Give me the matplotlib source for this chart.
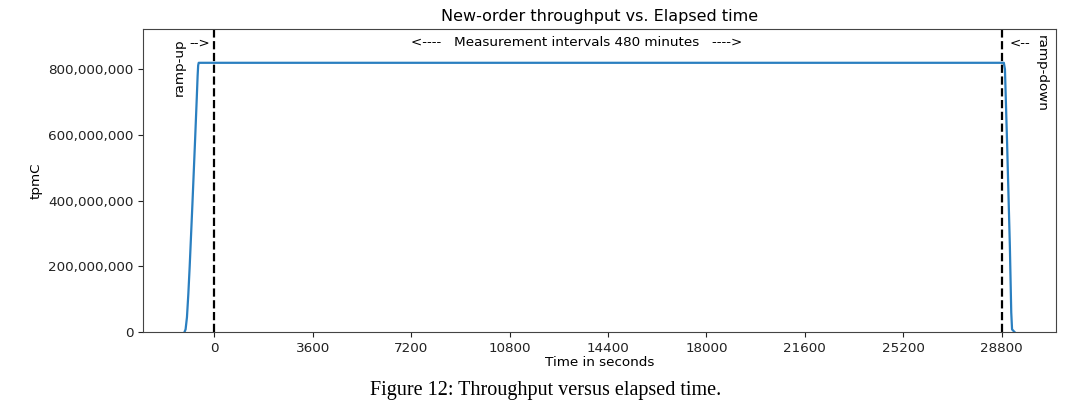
import matplotlib
matplotlib.use("Agg")
import matplotlib.pyplot as plt
from matplotlib.ticker import FuncFormatter

# Data (seconds, tpmC)
time_s = [-1090, -1050, -1000, -950, -900, -800, -700, -640, -610, -590, -570,
          0, 3600, 7200, 10800, 14400, 18000, 21600, 25200, 28800,
          28880, 28920, 29000, 29100, 29150, 29180, 29270]
tpmc = [0, 8e6, 45e6, 115e6, 200e6, 390e6, 590e6, 715e6, 780e6, 812e6, 820e6,
        820e6, 820e6, 820e6, 820e6, 820e6, 820e6, 820e6, 820e6, 820e6,
        820e6, 800e6, 570e6, 260e6, 60e6, 8e6, 0]

x_ticks = [0, 3600, 7200, 10800, 14400, 18000, 21600, 25200, 28800]
y_ticks = [0, 200e6, 400e6, 600e6, 800e6]
markers = [0, 28800]

fig = plt.figure(figsize=(10.8, 4.17), dpi=100)
ax = fig.add_axes([0.1324, 0.2038, 0.8454, 0.7259])

ax.plot(time_s, tpmc, color="#2a7fc0", lw=1.6)
for m in markers:
    ax.axvline(m, color="black", ls="--", lw=1.6)

ax.set_xticks(x_ticks)
ax.set_yticks(y_ticks)
ax.yaxis.set_major_formatter(FuncFormatter(lambda v, p: f"{int(v):,}"))
ax.set_ylim(0, 922e6)
ax.tick_params(labelsize=9.7, colors="#222222")
for s in ax.spines.values():
    s.set_color("#444444")

ax.set_title("New-order throughput vs. Elapsed time", fontsize=11.5, pad=6)
ax.set_xlabel("Time in seconds", fontsize=9.7, labelpad=1)
ax.set_ylabel("tpmC", fontsize=9.7)

tr = ax.get_xaxis_transform()
ax.text(7200, 0.955, "<----   Measurement intervals 480 minutes   ---->",
        transform=tr, fontsize=9.7, ha="left", va="center")
ax.text(-1300, 0.875, "ramp-up", rotation=90, fontsize=9.7, ha="center", va="center",
        transform=tr)
ax.text(-900, 0.955, "-->", fontsize=9.7, ha="left", va="center", transform=tr)
ax.text(29100, 0.955, "<--", fontsize=9.7, ha="left", va="center", transform=tr)
ax.text(30250, 0.855, "ramp-down", rotation=270, fontsize=9.7, ha="center", va="center",
        transform=tr)

fig.text(0.5056, 1 - 390 / 417, "Figure 12: Throughput versus elapsed time.",
         family="Liberation Serif", fontsize=14.5, ha="center", va="center")

fig.savefig("out.png", dpi=100)
